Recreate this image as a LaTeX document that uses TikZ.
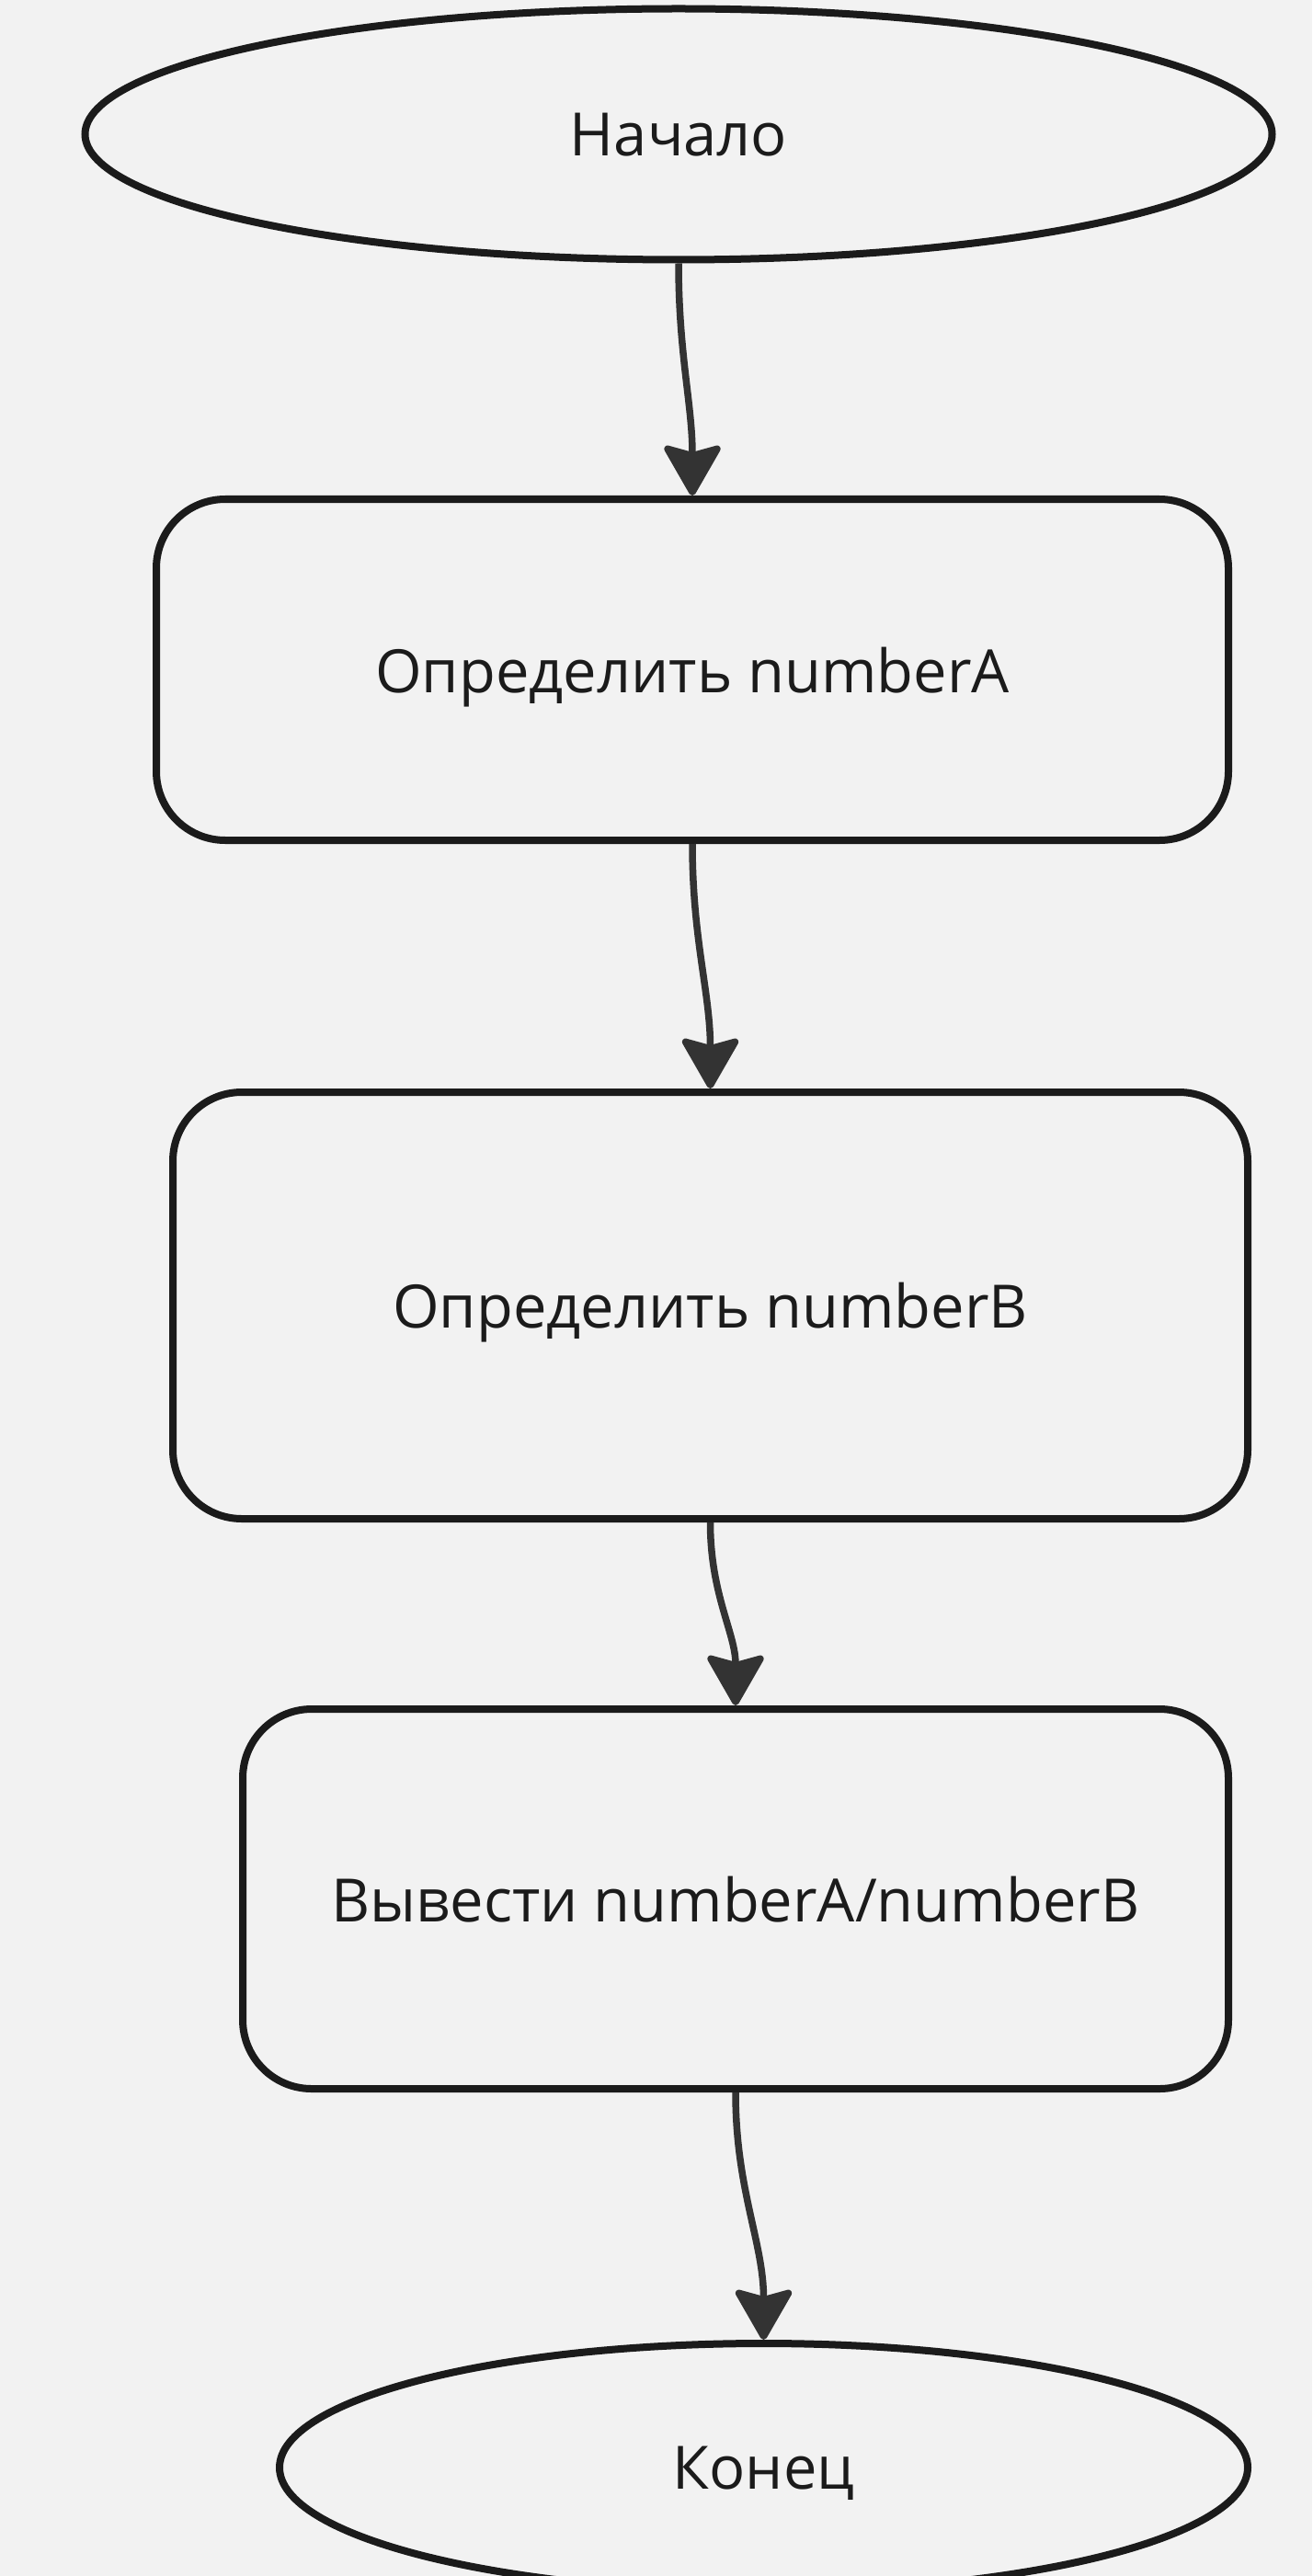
\documentclass[tikz,border=0pt]{standalone}
\usepackage{fontspec}
\setmainfont{Open Sans}
\usetikzlibrary{shapes.geometric,positioning,arrows.meta}
\definecolor{bgcol}{HTML}{F2F2F2}
\definecolor{inkcol}{HTML}{1B1B1B}
\definecolor{arrcol}{HTML}{333333}

\begin{document}
\begin{tikzpicture}[
  box/.style={rectangle, draw=inkcol, rounded corners=1.5cm, line width=0.16cm, align=center, text=inkcol, font=\fontsize{37}{44}\selectfont, text depth=0pt, inner sep=0pt},
  term/.style={ellipse, draw=inkcol, line width=0.16cm, text=inkcol, font=\fontsize{37}{44}\selectfont, text depth=0pt, inner sep=0pt},
  arrow/.style={-{Stealth[length=1.2cm, width=1.36cm, inset=0.18cm, round]}, line width=0.15cm, draw=arrcol},
]

% === background and page ===
\fill[bgcol] (0,0) rectangle (28.54,-56.04);
\useasboundingbox (0,0) rectangle (28.54,-56.04);
\clip (0,0) rectangle (28.54,-56.04);

% === flow ===
\node[term, minimum width=25.82cm, minimum height=5.46cm] (start) at (14.76,-2.92) {Начало};

\node[box, minimum width=23.32cm, minimum height=7.42cm] (numa) at (15.06,-14.57) {Определить numberA};
\node[box, minimum width=23.38cm, minimum height=9.28cm] (numb) at (15.45,-28.40) {Определить numberB};
\node[box, minimum width=21.44cm, minimum height=8.26cm] (outp) at (16.00,-41.31) {Вывести numberA/numberB};

\node[term, minimum width=21.06cm, minimum height=5.40cm] (stop) at (16.61,-53.68) {Конец};

\draw[arrow] (start.south) to[out=-90, in=90] (numa.north);
\draw[arrow] (numa.south) to[out=-90, in=90] (numb.north);
\draw[arrow] (numb.south) to[out=-90, in=90] (outp.north);
\draw[arrow] (outp.south) to[out=-90, in=90] (stop.north);
\end{tikzpicture}
\end{document}
